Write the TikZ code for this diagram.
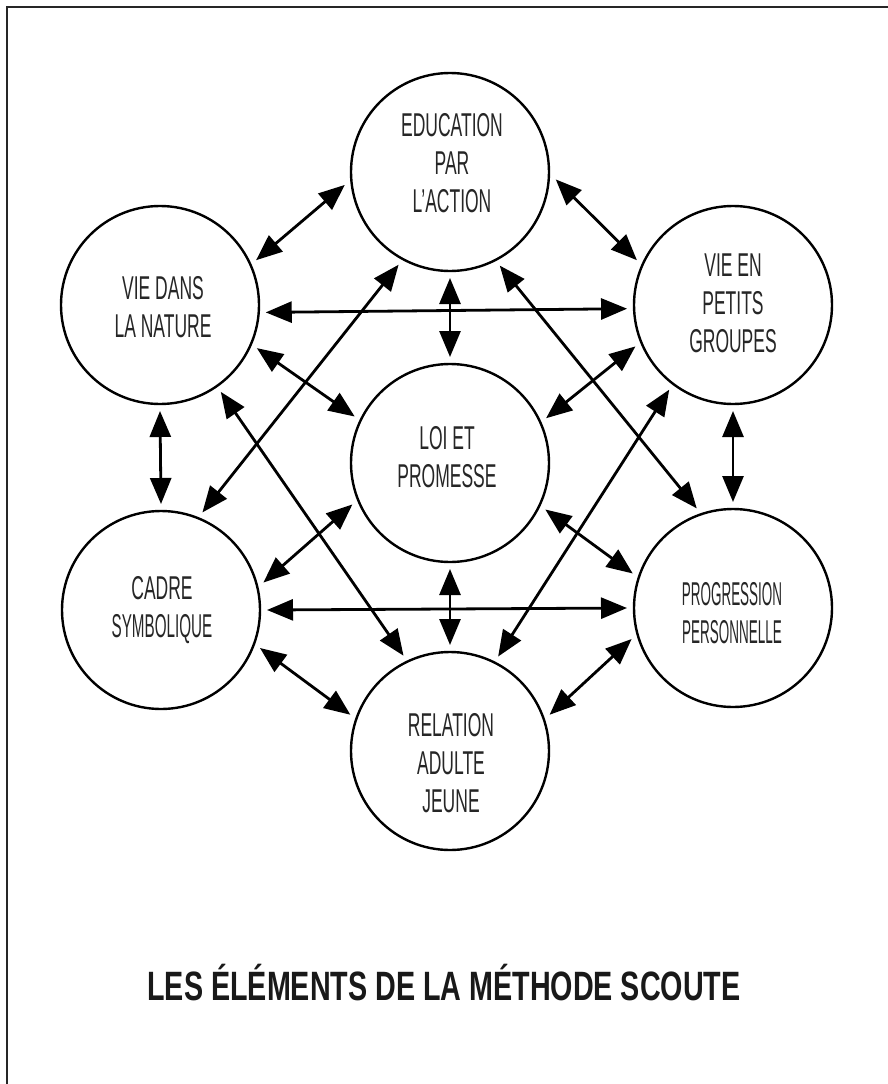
\documentclass[tikz,border=0pt]{standalone}
\usepackage{fontspec}
\usepackage{graphicx}
\setmainfont{Liberation Sans}[FakeStretch=0.53]
\newfontfamily\titlefont{Liberation Sans}[FakeStretch=0.70]
\usetikzlibrary{arrows.meta}
\begin{document}
\begin{tikzpicture}[x=1pt,y=-1pt,
  elem/.style={circle,draw=black,line width=2.4pt,minimum size=198pt,inner sep=0pt,outer sep=7pt},
  lbl/.style={align=center,text=black!85,font=\fontsize{33}{38}\selectfont,inner sep=0pt},
  link/.style={{Triangle[length=26pt,width=21pt]}-{Triangle[length=26pt,width=21pt]},line width=2.8pt},
  ttl/.style={font=\titlefont\bfseries\fontsize{41}{44}\selectfont,text=black!90,inner sep=0pt}]
\useasboundingbox (0,0) rectangle (888,1084);
\fill[white] (0,0) rectangle (888,1084);
\draw[line width=2.6pt,black!85] (7,1084) -- (7,7) -- (888,7);

\node[elem] (T)  at (450,172) {};
\node[elem] (NL) at (160,305) {};
\node[elem] (NR) at (733,305) {};
\node[elem] (C)  at (450,463) {};
\node[elem] (SL) at (161,610) {};
\node[elem] (SR) at (733,608) {};
\node[elem] (B)  at (450,751) {};

\node[lbl] (Tt)  at (452,163) {EDUCATION\\PAR\\L’ACTION};
\node[lbl] (NLt) at (163,307) {VIE DANS\\LA NATURE};
\node[lbl] (NRt) at (733,303) {VIE EN\\PETITS\\GROUPES};
\node[lbl] (Ct)  at (447,457) {LOI ET\\PROMESSE};
\node[lbl] (SLt) at (162,610) {CADRE\\\scalebox{0.87}[1]{SYMBOLIQUE}};
\node[lbl] (SRt) at (732,613) {\scalebox{0.77}[1]{PROGRESSION}\\\scalebox{0.77}[1]{PERSONNELLE}};
\node[lbl] (Bt)  at (451,763) {RELATION\\ADULTE\\JEUNE};

\draw[link] (T.187.6) -- (NL.25);
\draw[link] (T.356) -- (NR.155);
\draw[link] (NL.-4) -- (NR.182.7);
\draw[link] (T.270) -- (C.90);
\draw[link] (SL.67.6) -- (T.241.4);
\draw[link] (T.298.4) -- (SR.110.6);
\draw[link] (NL.336.3) -- (C.154.4);
\draw[link] (C.25.9) -- (NR.203.5);
\draw[link] (NL.305.7) -- (B.116.6);
\draw[link] (NR.233.2) -- (B.63);
\draw[link] (C.203.7) -- (SL.15.5);
\draw[link] (C.334.4) -- (SR.161.1);
\draw[link] (C.270) -- (B.90);
\draw[link] (SL.0) -- (SR.180);
\draw[link] (SL.339.3) -- (B.160);
\draw[link] (B.20) -- (SR.197);
\draw[link] (NL.270) -- (SL.90);
\draw[link] (NR.270) -- (SR.90);

\node[ttl,anchor=base] (title) at (444,1000) {LES ÉLÉMENTS DE LA MÉTHODE SCOUTE};
\end{tikzpicture}
\end{document}
